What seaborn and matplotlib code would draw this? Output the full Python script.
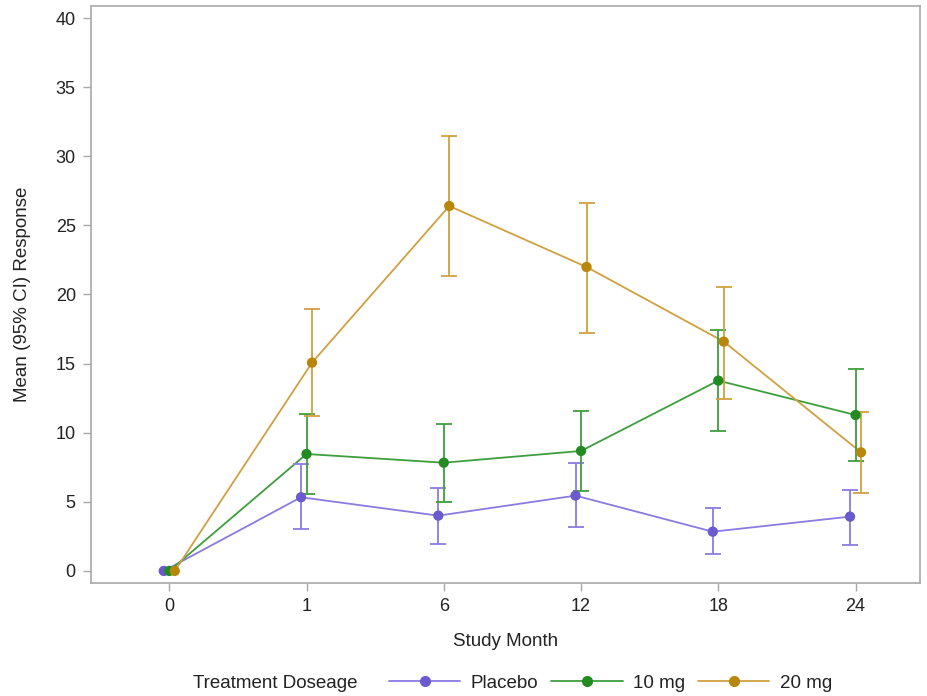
import matplotlib
matplotlib.use("Agg")
import matplotlib.pyplot as plt
import seaborn as sns
import pandas as pd
import numpy as np
from matplotlib.lines import Line2D

months = ["0", "1", "6", "12", "18", "24"]
groups = ["Placebo", "10 mg", "20 mg"]

placebo_mean = [0.0, 5.33, 4.00, 5.45, 2.84, 3.93]
placebo_low = [np.nan, 3.06, 1.97, 3.16, 1.23, 1.86]
placebo_high = [np.nan, 7.72, 5.98, 7.81, 4.58, 5.86]

mg10_mean = [0.0, 8.46, 7.83, 8.68, 13.77, 11.28]
mg10_low = [np.nan, 5.55, 5.01, 5.76, 10.10, 7.93]
mg10_high = [np.nan, 11.38, 10.63, 11.60, 17.43, 14.61]

mg20_mean = [0.0, 15.07, 26.40, 21.99, 16.59, 8.58]
mg20_low = [np.nan, 11.19, 21.34, 17.24, 12.46, 5.67]
mg20_high = [np.nan, 18.95, 31.49, 26.64, 20.54, 11.48]

marker_colors = {"Placebo": "#6A5ACD", "10 mg": "#228B22", "20 mg": "#B8860B"}
line_colors = {"Placebo": "#8A7BE0", "10 mg": "#3E9E3E", "20 mg": "#D0A040"}
offsets = {"Placebo": -0.04, "10 mg": 0.0, "20 mg": 0.04}

rows = []
for g, m, lo, hi in [("Placebo", placebo_mean, placebo_low, placebo_high),
                     ("10 mg", mg10_mean, mg10_low, mg10_high),
                     ("20 mg", mg20_mean, mg20_low, mg20_high)]:
    for i, mon in enumerate(months):
        rows.append({"group": g, "month": mon, "idx": i + offsets[g],
                     "mean": m[i], "low": lo[i], "high": hi[i]})
df = pd.DataFrame(rows)

sns.set_theme(style="white")
plt.rcParams['font.family'] = ['Liberation Sans', 'DejaVu Sans']

FS = 13.5
TXT = "#222222"

fig = plt.figure(figsize=(9.27, 6.96), dpi=100)
ax = fig.add_axes([0.0982, 0.1624, 0.8943, 0.829])

sns.lineplot(data=df, x="idx", y="mean", hue="group", hue_order=groups,
             palette=line_colors, ax=ax, legend=False, linewidth=1.3,
             estimator=None, sort=False)

for g in groups:
    sub = df[df.group == g]
    ax.errorbar(sub["idx"], sub["mean"],
                yerr=[sub["mean"] - sub["low"], sub["high"] - sub["mean"]],
                fmt="none", ecolor=line_colors[g], elinewidth=1.3,
                capsize=6, capthick=1.3, zorder=3)

sns.scatterplot(data=df, x="idx", y="mean", hue="group", hue_order=groups,
                palette=marker_colors, ax=ax, legend=False, s=55,
                edgecolor="none", zorder=4)

ax.set_xlim(-0.57, 5.47)
ax.set_ylim(-0.87, 40.87)
ax.set_xticks(range(len(months)))
ax.set_xticklabels(months)
ax.set_yticks(range(0, 41, 5))

frame_color = "#A8A8A8"
for s in ax.spines.values():
    s.set_color(frame_color)
    s.set_linewidth(1.2)
ax.tick_params(axis="both", which="both", direction="out", length=6,
               width=1.0, color=frame_color, labelsize=13,
               labelcolor=TXT, left=True, bottom=True, pad=5)

ax.set_xlabel("Study Month", fontsize=FS, color=TXT, labelpad=13)
ax.set_ylabel("Mean (95% CI) Response", fontsize=FS, color=TXT, labelpad=18)

fig.text(193 / 927, 1 - 683 / 696, "Treatment Doseage", fontsize=FS,
         color=TXT, va="center", ha="left")

handles = [Line2D([0], [0], color=line_colors[g], lw=1.3, marker="o",
                  markersize=7, markerfacecolor=marker_colors[g],
                  markeredgecolor=marker_colors[g]) for g in groups]
leg = fig.legend(handles, groups, loc="center left", ncol=3,
                 bbox_to_anchor=(389 / 927, 1 - 683 / 696), frameon=False,
                 fontsize=FS, handlelength=3.8, handletextpad=0.55,
                 columnspacing=0.7, borderaxespad=0, borderpad=0)
for t in leg.get_texts():
    t.set_color(TXT)

fig.savefig("out.png", dpi=100)
